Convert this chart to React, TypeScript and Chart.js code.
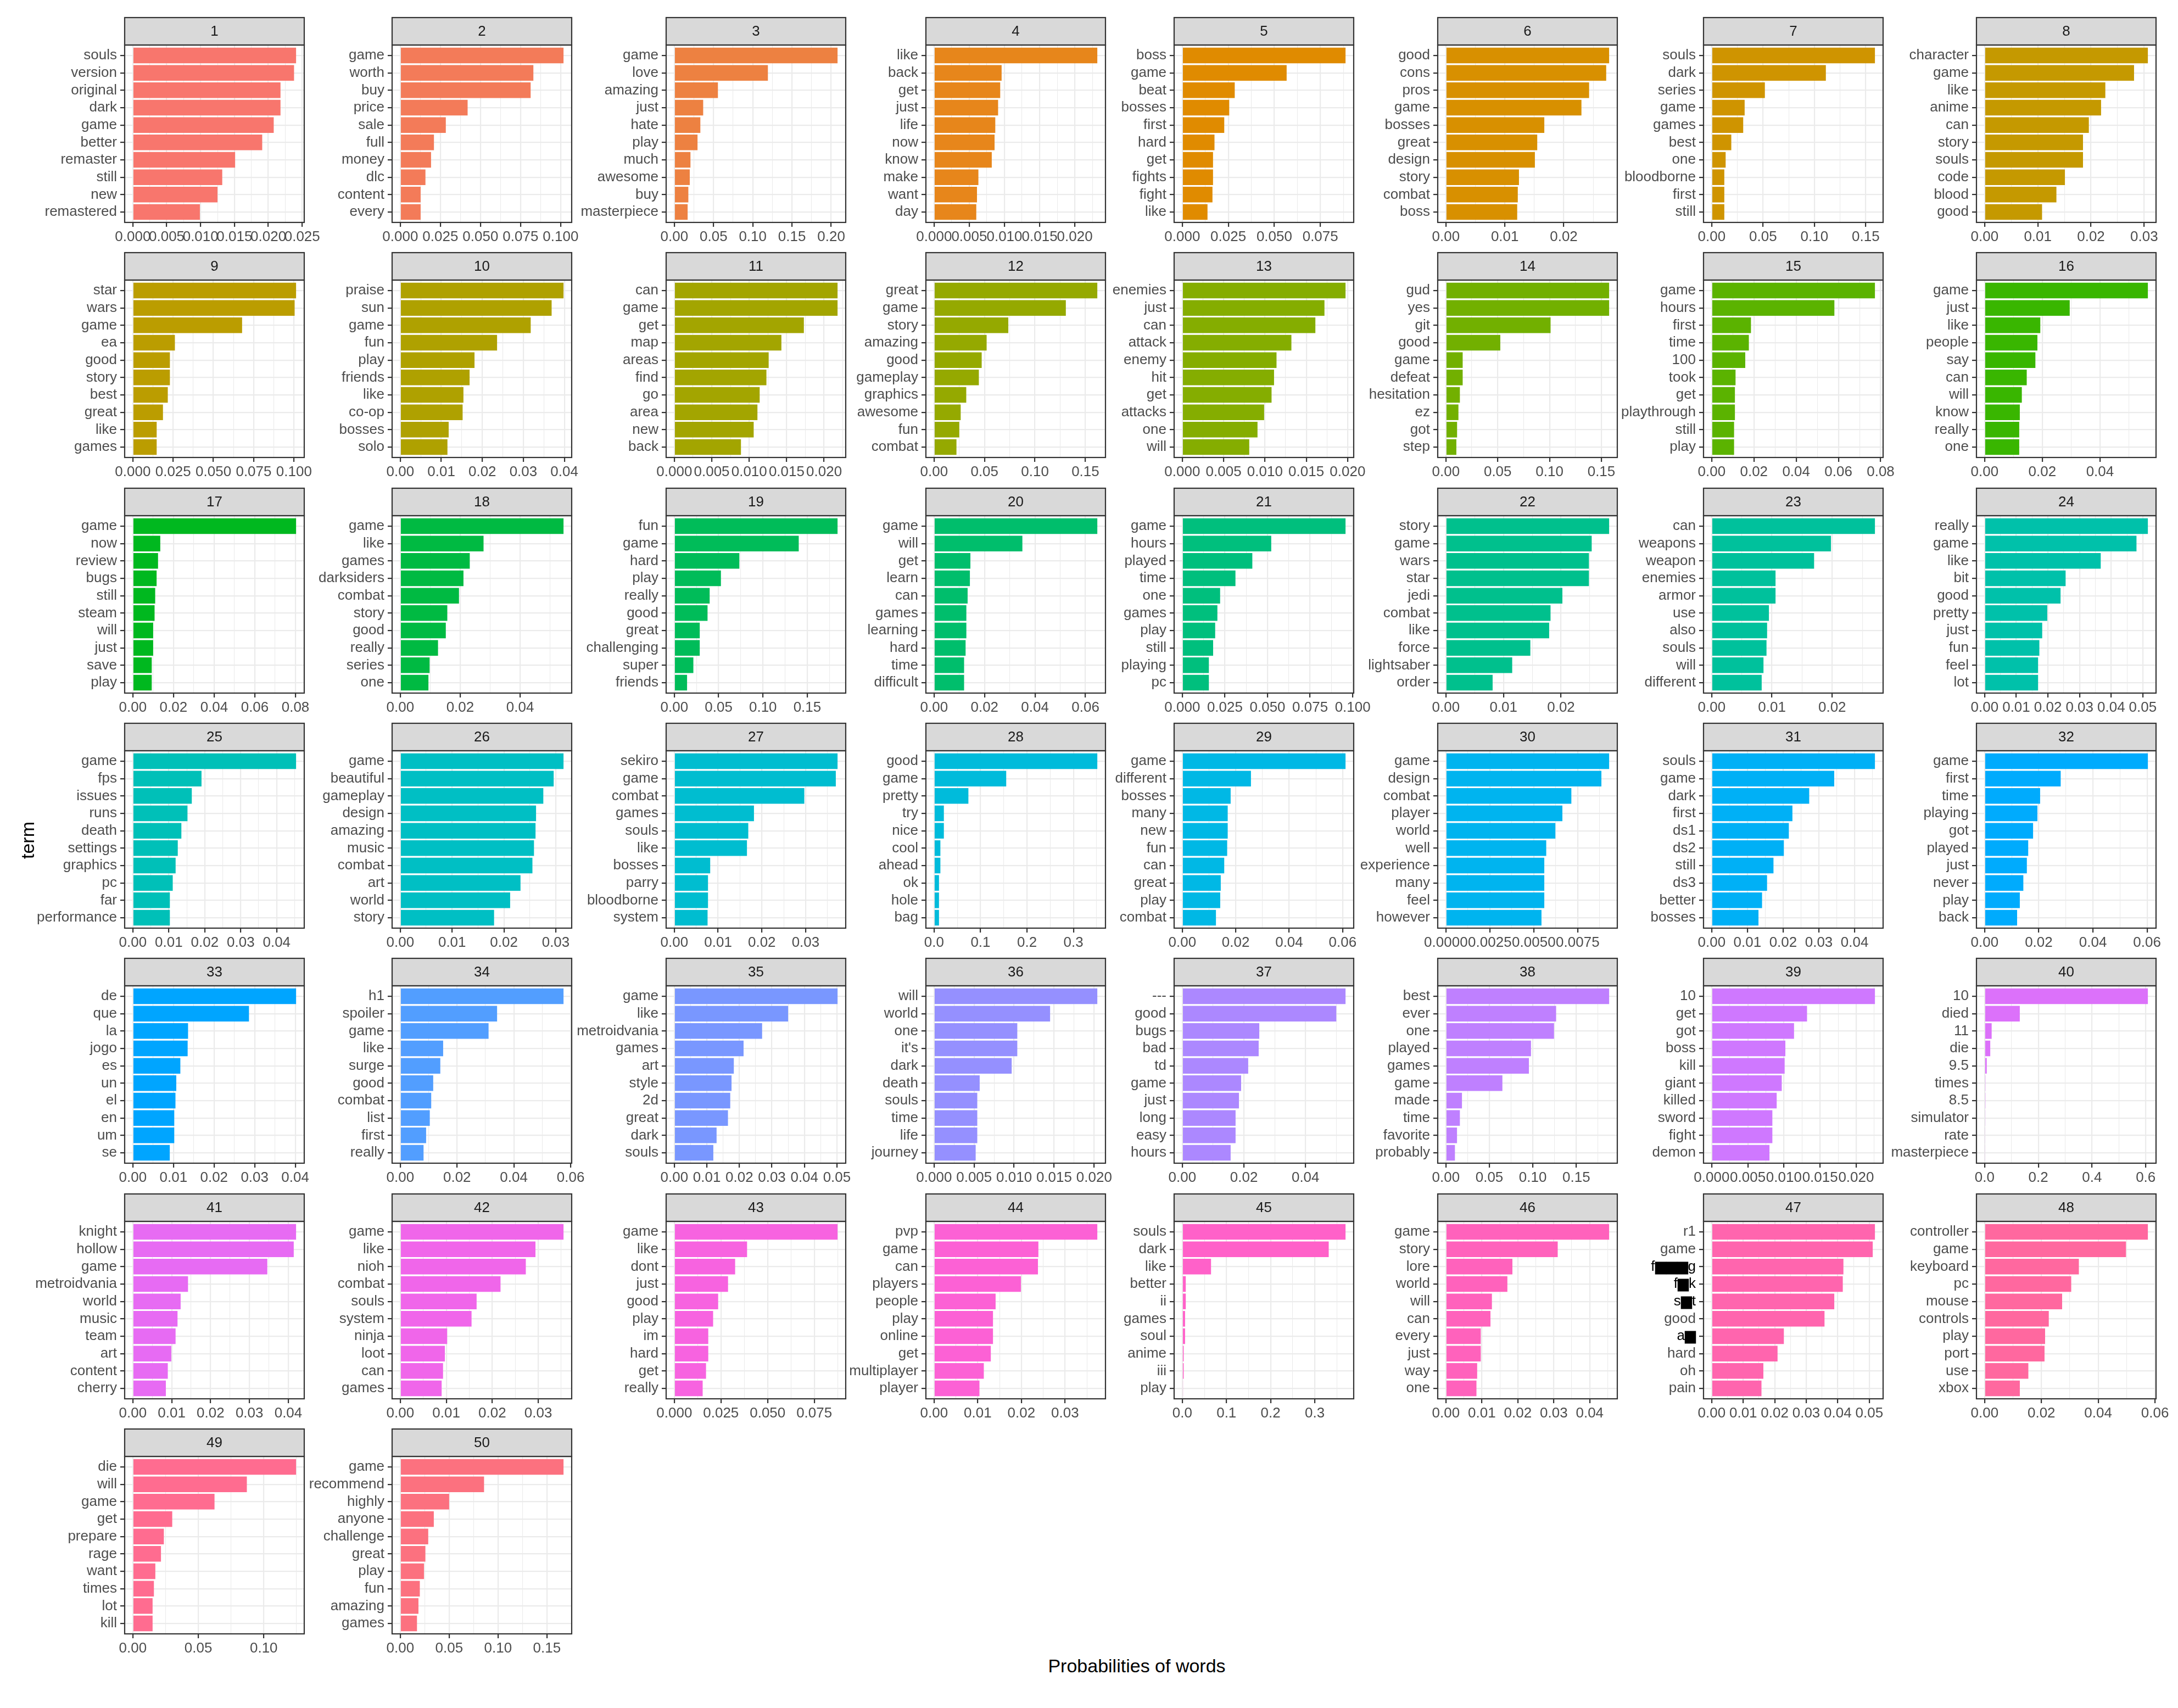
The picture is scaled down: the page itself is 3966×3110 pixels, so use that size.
import React, { useEffect, useRef } from "react";
import { Chart, registerables } from "chart.js";

Chart.register(...registerables);

// ---------------- DATA ----------------
const terms01 = ["souls", "version", "original", "dark", "game", "better", "remaster", "still", "new", "remastered"];
const probs01 = [0.0241, 0.0238, 0.0218, 0.0218, 0.0208, 0.0191, 0.0151, 0.0132, 0.0125, 0.0099];
const xticks01 = ["0.000", "0.005", "0.010", "0.015", "0.020", "0.025"];

const terms02 = ["game", "worth", "buy", "price", "sale", "full", "money", "dlc", "content", "every"];
const probs02 = [0.1018, 0.083, 0.0813, 0.042, 0.0284, 0.021, 0.0192, 0.0157, 0.0127, 0.0127];
const xticks02 = ["0.000", "0.025", "0.050", "0.075", "0.100"];

const terms03 = ["game", "love", "amazing", "just", "hate", "play", "much", "awesome", "buy", "masterpiece"];
const probs03 = [0.2081, 0.1193, 0.0556, 0.0368, 0.0332, 0.0296, 0.0206, 0.0197, 0.0179, 0.017];
const xticks03 = ["0.00", "0.05", "0.10", "0.15", "0.20"];

const terms04 = ["like", "back", "get", "just", "life", "now", "know", "make", "want", "day"];
const probs04 = [0.0232, 0.0096, 0.0094, 0.0091, 0.0087, 0.0086, 0.0082, 0.0063, 0.0061, 0.006];
const xticks04 = ["0.000", "0.005", "0.010", "0.015", "0.020"];

const terms05 = ["boss", "game", "beat", "bosses", "first", "hard", "get", "fights", "fight", "like"];
const probs05 = [0.0887, 0.0567, 0.0285, 0.0255, 0.0228, 0.0175, 0.0167, 0.0167, 0.0164, 0.0137];
const xticks05 = ["0.000", "0.025", "0.050", "0.075"];

const terms06 = ["good", "cons", "pros", "game", "bosses", "great", "design", "story", "combat", "boss"];
const probs06 = [0.0277, 0.0272, 0.0243, 0.023, 0.0167, 0.0155, 0.0151, 0.0124, 0.0122, 0.0121];
const xticks06 = ["0.00", "0.01", "0.02"];

const terms07 = ["souls", "dark", "series", "game", "games", "best", "one", "bloodborne", "first", "still"];
const probs07 = [0.159, 0.1112, 0.0518, 0.0321, 0.0307, 0.0191, 0.0136, 0.0123, 0.0123, 0.0123];
const xticks07 = ["0.00", "0.05", "0.10", "0.15"];

const terms08 = ["character", "game", "like", "anime", "can", "story", "souls", "code", "blood", "good"];
const probs08 = [0.0307, 0.0281, 0.0227, 0.0219, 0.0196, 0.0185, 0.0185, 0.0151, 0.0135, 0.0108];
const xticks08 = ["0.00", "0.01", "0.02", "0.03"];

const terms09 = ["star", "wars", "game", "ea", "good", "story", "best", "great", "like", "games"];
const probs09 = [0.1013, 0.1004, 0.0678, 0.0261, 0.023, 0.023, 0.0217, 0.0187, 0.0148, 0.0148];
const xticks09 = ["0.000", "0.025", "0.050", "0.075", "0.100"];

const terms10 = ["praise", "sun", "game", "fun", "play", "friends", "like", "co-op", "bosses", "solo"];
const probs10 = [0.0398, 0.0369, 0.0318, 0.0236, 0.0181, 0.0169, 0.0154, 0.0152, 0.0118, 0.0115];
const xticks10 = ["0.00", "0.01", "0.02", "0.03", "0.04"];

const terms11 = ["can", "game", "get", "map", "areas", "find", "go", "area", "new", "back"];
const probs11 = [0.0218, 0.0218, 0.0173, 0.0143, 0.0126, 0.0123, 0.0114, 0.0111, 0.0106, 0.0089];
const xticks11 = ["0.000", "0.005", "0.010", "0.015", "0.020"];

const terms12 = ["great", "game", "story", "amazing", "good", "gameplay", "graphics", "awesome", "fun", "combat"];
const probs12 = [0.1618, 0.1306, 0.0736, 0.0521, 0.0472, 0.0444, 0.0319, 0.0264, 0.025, 0.0222];
const xticks12 = ["0.00", "0.05", "0.10", "0.15"];

const terms13 = ["enemies", "just", "can", "attack", "enemy", "hit", "get", "attacks", "one", "will"];
const probs13 = [0.01975, 0.0172, 0.0161, 0.0132, 0.0114, 0.0111, 0.0108, 0.0099, 0.0091, 0.0081];
const xticks13 = ["0.000", "0.005", "0.010", "0.015", "0.020"];

const terms14 = ["gud", "yes", "git", "good", "game", "defeat", "hesitation", "ez", "got", "step"];
const probs14 = [0.1575, 0.1575, 0.101, 0.0525, 0.0162, 0.0162, 0.0135, 0.0121, 0.0108, 0.0101];
const xticks14 = ["0.00", "0.05", "0.10", "0.15"];

const terms15 = ["game", "hours", "first", "time", "100", "took", "get", "playthrough", "still", "play"];
const probs15 = [0.0773, 0.0581, 0.0186, 0.0176, 0.0159, 0.0113, 0.011, 0.011, 0.0106, 0.0106];
const xticks15 = ["0.00", "0.02", "0.04", "0.06", "0.08"];

const terms16 = ["game", "just", "like", "people", "say", "can", "will", "know", "really", "one"];
const probs16 = [0.0566, 0.0295, 0.0193, 0.0183, 0.0176, 0.0146, 0.0129, 0.0122, 0.012, 0.012];
const xticks16 = ["0.00", "0.02", "0.04"];

const terms17 = ["game", "now", "review", "bugs", "still", "steam", "will", "just", "save", "play"];
const probs17 = [0.0803, 0.0135, 0.0124, 0.0117, 0.011, 0.0107, 0.01, 0.01, 0.0093, 0.0093];
const xticks17 = ["0.00", "0.02", "0.04", "0.06", "0.08"];

const terms18 = ["game", "like", "games", "darksiders", "combat", "story", "good", "really", "series", "one"];
const probs18 = [0.0545, 0.0278, 0.0232, 0.0211, 0.0196, 0.0157, 0.0152, 0.0126, 0.0098, 0.0094];
const xticks18 = ["0.00", "0.02", "0.04"];

const terms19 = ["fun", "game", "hard", "play", "really", "good", "great", "challenging", "super", "friends"];
const probs19 = [0.1842, 0.1404, 0.0734, 0.0526, 0.0399, 0.0375, 0.0287, 0.0287, 0.0215, 0.0144];
const xticks19 = ["0.00", "0.05", "0.10", "0.15"];

const terms20 = ["game", "will", "get", "learn", "can", "games", "learning", "hard", "time", "difficult"];
const probs20 = [0.0647, 0.035, 0.0144, 0.0142, 0.0133, 0.0128, 0.0128, 0.0125, 0.0119, 0.0119];
const xticks20 = ["0.00", "0.02", "0.04", "0.06"];

const terms21 = ["game", "hours", "played", "time", "one", "games", "play", "still", "playing", "pc"];
const probs21 = [0.0958, 0.0522, 0.0411, 0.0312, 0.0222, 0.0206, 0.0193, 0.0181, 0.0156, 0.0156];
const xticks21 = ["0.000", "0.025", "0.050", "0.075", "0.100"];

const terms22 = ["story", "game", "wars", "star", "jedi", "combat", "like", "force", "lightsaber", "order"];
const probs22 = [0.02836, 0.02533, 0.02485, 0.02485, 0.02024, 0.01818, 0.01794, 0.01467, 0.01152, 0.00812];
const xticks22 = ["0.00", "0.01", "0.02"];

const terms23 = ["can", "weapons", "weapon", "enemies", "armor", "use", "also", "souls", "will", "different"];
const probs23 = [0.0271, 0.0198, 0.017, 0.0106, 0.0106, 0.0095, 0.0092, 0.0091, 0.0086, 0.0083];
const xticks23 = ["0.00", "0.01", "0.02"];

const terms24 = ["really", "game", "like", "bit", "good", "pretty", "just", "fun", "feel", "lot"];
const probs24 = [0.0516, 0.048, 0.0367, 0.0256, 0.024, 0.0198, 0.0182, 0.0173, 0.0169, 0.0169];
const xticks24 = ["0.00", "0.01", "0.02", "0.03", "0.04", "0.05"];

const terms25 = ["game", "fps", "issues", "runs", "death", "settings", "graphics", "pc", "far", "performance"];
const probs25 = [0.0454, 0.0191, 0.0164, 0.0152, 0.0135, 0.0125, 0.0119, 0.0111, 0.0103, 0.0103];
const xticks25 = ["0.00", "0.01", "0.02", "0.03", "0.04"];

const terms26 = ["game", "beautiful", "gameplay", "design", "amazing", "music", "combat", "art", "world", "story"];
const probs26 = [0.0315, 0.0296, 0.0276, 0.0262, 0.0261, 0.0258, 0.0255, 0.0232, 0.0212, 0.0181];
const xticks26 = ["0.00", "0.01", "0.02", "0.03"];

const terms27 = ["sekiro", "game", "combat", "games", "souls", "like", "bosses", "parry", "bloodborne", "system"];
const probs27 = [0.0373, 0.0369, 0.0297, 0.0182, 0.0169, 0.0166, 0.0082, 0.0077, 0.0077, 0.0076];
const xticks27 = ["0.00", "0.01", "0.02", "0.03"];

const terms28 = ["good", "game", "pretty", "try", "nice", "cool", "ahead", "ok", "hole", "bag"];
const probs28 = [0.3514, 0.1553, 0.0739, 0.0211, 0.0211, 0.0136, 0.0136, 0.0106, 0.0106, 0.0106];
const xticks28 = ["0.0", "0.1", "0.2", "0.3"];

const terms29 = ["game", "different", "bosses", "many", "new", "fun", "can", "great", "play", "combat"];
const probs29 = [0.0611, 0.0257, 0.0181, 0.017, 0.017, 0.0168, 0.0157, 0.0144, 0.0142, 0.0126];
const xticks29 = ["0.00", "0.02", "0.04", "0.06"];

const terms30 = ["game", "design", "combat", "player", "world", "well", "experience", "many", "feel", "however"];
const probs30 = [0.00929, 0.00885, 0.00714, 0.00663, 0.00623, 0.00571, 0.0056, 0.0056, 0.0056, 0.00544];
const xticks30 = ["0.0000", "0.0025", "0.0050", "0.0075"];

const terms31 = ["souls", "game", "dark", "first", "ds1", "ds2", "still", "ds3", "better", "bosses"];
const probs31 = [0.0457, 0.0343, 0.0273, 0.0226, 0.0216, 0.0202, 0.0173, 0.0155, 0.0141, 0.0131];
const xticks31 = ["0.00", "0.01", "0.02", "0.03", "0.04"];

const terms32 = ["game", "first", "time", "playing", "got", "played", "just", "never", "play", "back"];
const probs32 = [0.0603, 0.0281, 0.0205, 0.0195, 0.0179, 0.0161, 0.0156, 0.0143, 0.013, 0.012];
const xticks32 = ["0.00", "0.02", "0.04", "0.06"];

const terms33 = ["de", "que", "la", "jogo", "es", "un", "el", "en", "um", "se"];
const probs33 = [0.0402, 0.0286, 0.0136, 0.0135, 0.0117, 0.0107, 0.0105, 0.0102, 0.0102, 0.0091];
const xticks33 = ["0.00", "0.01", "0.02", "0.03", "0.04"];

const terms34 = ["h1", "spoiler", "game", "like", "surge", "good", "combat", "list", "first", "really"];
const probs34 = [0.0575, 0.0341, 0.0311, 0.0151, 0.0141, 0.0116, 0.0109, 0.0104, 0.0091, 0.0082];
const xticks34 = ["0.00", "0.02", "0.04", "0.06"];

const terms35 = ["game", "like", "metroidvania", "games", "art", "style", "2d", "great", "dark", "souls"];
const probs35 = [0.0502, 0.035, 0.027, 0.0213, 0.0183, 0.0176, 0.0172, 0.0165, 0.013, 0.012];
const xticks35 = ["0.00", "0.01", "0.02", "0.03", "0.04", "0.05"];

const terms36 = ["will", "world", "one", "it's", "dark", "death", "souls", "time", "life", "journey"];
const probs36 = [0.0204, 0.0145, 0.0104, 0.0104, 0.0097, 0.0057, 0.0054, 0.0054, 0.0054, 0.0052];
const xticks36 = ["0.000", "0.005", "0.010", "0.015", "0.020"];

const terms37 = ["---", "good", "bugs", "bad", "td", "game", "just", "long", "easy", "hours"];
const probs37 = [0.053, 0.05, 0.025, 0.0248, 0.0214, 0.0191, 0.0184, 0.0173, 0.0173, 0.0157];
const xticks37 = ["0.00", "0.02", "0.04"];

const terms38 = ["best", "ever", "one", "played", "games", "game", "made", "time", "favorite", "probably"];
const probs38 = [0.1878, 0.1268, 0.1244, 0.0979, 0.0955, 0.065, 0.0185, 0.0161, 0.0128, 0.0104];
const xticks38 = ["0.00", "0.05", "0.10", "0.15"];

const terms39 = ["10", "get", "got", "boss", "kill", "giant", "killed", "sword", "fight", "demon"];
const probs39 = [0.0226, 0.0132, 0.0114, 0.0102, 0.0101, 0.0097, 0.009, 0.0084, 0.0084, 0.008];
const xticks39 = ["0.000", "0.005", "0.010", "0.015", "0.020"];

const terms40 = ["10", "died", "11", "die", "9.5", "times", "8.5", "simulator", "rate", "masterpiece"];
const probs40 = [0.608, 0.131, 0.0262, 0.021, 0.0079, 0.003, 0.003, 0.0026, 0.002, 0.002];
const xticks40 = ["0.0", "0.2", "0.4", "0.6"];

const terms41 = ["knight", "hollow", "game", "metroidvania", "world", "music", "team", "art", "content", "cherry"];
const probs41 = [0.042, 0.0414, 0.0346, 0.0142, 0.0123, 0.0115, 0.011, 0.0099, 0.009, 0.0085];
const xticks41 = ["0.00", "0.01", "0.02", "0.03", "0.04"];

const terms42 = ["game", "like", "nioh", "combat", "souls", "system", "ninja", "loot", "can", "games"];
const probs42 = [0.0355, 0.0294, 0.0273, 0.0218, 0.0166, 0.0155, 0.0102, 0.0097, 0.0093, 0.009];
const xticks42 = ["0.00", "0.01", "0.02", "0.03"];

const terms43 = ["game", "like", "dont", "just", "good", "play", "im", "hard", "get", "really"];
const probs43 = [0.0875, 0.039, 0.0326, 0.0288, 0.0235, 0.0208, 0.0182, 0.0182, 0.017, 0.0152];
const xticks43 = ["0.000", "0.025", "0.050", "0.075"];

const terms44 = ["pvp", "game", "can", "players", "people", "play", "online", "get", "multiplayer", "player"];
const probs44 = [0.0374, 0.0239, 0.0238, 0.0199, 0.0141, 0.0135, 0.0135, 0.013, 0.0114, 0.0104];
const xticks44 = ["0.00", "0.01", "0.02", "0.03"];

const terms45 = ["souls", "dark", "like", "better", "ii", "games", "soul", "anime", "iii", "play"];
const probs45 = [0.3698, 0.3317, 0.0651, 0.0079, 0.0079, 0.0063, 0.0063, 0.0032, 0.0032, 0.0016];
const xticks45 = ["0.0", "0.1", "0.2", "0.3"];

const terms46 = ["game", "story", "lore", "world", "will", "can", "every", "just", "way", "one"];
const probs46 = [0.0454, 0.0311, 0.0185, 0.0171, 0.0128, 0.0124, 0.0097, 0.0097, 0.0087, 0.0085];
const xticks46 = ["0.00", "0.01", "0.02", "0.03", "0.04"];

// censored words in the source picture are shown with solid blocks
const terms47 = ["r1", "game", "f\u2586\u2586\u2586g", "f\u2586k", "s\u2586t", "good", "a\u2586", "hard", "oh", "pain"];
const probs47 = [0.0518, 0.0511, 0.0418, 0.0416, 0.0389, 0.0358, 0.0229, 0.0209, 0.0164, 0.0158];
const xticks47 = ["0.00", "0.01", "0.02", "0.03", "0.04", "0.05"];

const terms48 = ["controller", "game", "keyboard", "pc", "mouse", "controls", "play", "port", "use", "xbox"];
const probs48 = [0.0575, 0.0498, 0.0332, 0.0305, 0.0273, 0.0226, 0.0213, 0.0211, 0.0154, 0.0124];
const xticks48 = ["0.00", "0.02", "0.04", "0.06"];

const terms49 = ["die", "will", "game", "get", "prepare", "rage", "want", "times", "lot", "kill"];
const probs49 = [0.1247, 0.0871, 0.0624, 0.0301, 0.0237, 0.0215, 0.0172, 0.0161, 0.0151, 0.0151];
const xticks49 = ["0.00", "0.05", "0.10"];

const terms50 = ["game", "recommend", "highly", "anyone", "challenge", "great", "play", "fun", "amazing", "games"];
const probs50 = [0.167, 0.0857, 0.05, 0.0343, 0.0286, 0.0257, 0.0243, 0.02, 0.0186, 0.0171];
const xticks50 = ["0.00", "0.05", "0.10", "0.15"];

const xAxisTitle = "Probabilities of words";
const yAxisTitle = "term";

type PanelDef = { id: number; terms: string[]; probs: number[]; ticks: string[] };

const panels: PanelDef[] = [
  [terms01, probs01, xticks01], [terms02, probs02, xticks02], [terms03, probs03, xticks03], [terms04, probs04, xticks04],
  [terms05, probs05, xticks05], [terms06, probs06, xticks06], [terms07, probs07, xticks07], [terms08, probs08, xticks08],
  [terms09, probs09, xticks09], [terms10, probs10, xticks10], [terms11, probs11, xticks11], [terms12, probs12, xticks12],
  [terms13, probs13, xticks13], [terms14, probs14, xticks14], [terms15, probs15, xticks15], [terms16, probs16, xticks16],
  [terms17, probs17, xticks17], [terms18, probs18, xticks18], [terms19, probs19, xticks19], [terms20, probs20, xticks20],
  [terms21, probs21, xticks21], [terms22, probs22, xticks22], [terms23, probs23, xticks23], [terms24, probs24, xticks24],
  [terms25, probs25, xticks25], [terms26, probs26, xticks26], [terms27, probs27, xticks27], [terms28, probs28, xticks28],
  [terms29, probs29, xticks29], [terms30, probs30, xticks30], [terms31, probs31, xticks31], [terms32, probs32, xticks32],
  [terms33, probs33, xticks33], [terms34, probs34, xticks34], [terms35, probs35, xticks35], [terms36, probs36, xticks36],
  [terms37, probs37, xticks37], [terms38, probs38, xticks38], [terms39, probs39, xticks39], [terms40, probs40, xticks40],
  [terms41, probs41, xticks41], [terms42, probs42, xticks42], [terms43, probs43, xticks43], [terms44, probs44, xticks44],
  [terms45, probs45, xticks45], [terms46, probs46, xticks46], [terms47, probs47, xticks47], [terms48, probs48, xticks48],
  [terms49, probs49, xticks49], [terms50, probs50, xticks50],
].map((p, i) => ({ id: i + 1, terms: p[0] as string[], probs: p[1] as number[], ticks: p[2] as string[] }));

// ---------------- STYLE / LAYOUT ----------------
const FONT = '"Liberation Sans", Arial, Helvetica, sans-serif';
const COL_LEFT = [227, 714, 1213, 1686, 2138, 2618, 3102, 3599];
const ROW_TOP0 = 32;
const ROW_PITCH = 428.3;
const PW = 327;
const PH = 323;
const STRIP = 50;
const YW = 210;
const XH = 60;
const RPAD = 60;
const TOPPAD = 4;
const TEXT_SIZE = 26;
const BORDER = "#333333";
const GRID = "#EBEBEB";
const LINE_W = 2.2;
const CENSOR = /[\u2580-\u259F]/;

// ggplot2 default hue palette (hcl, c = 100, l = 65)
function hcl(h: number, c: number, l: number): string {
  const WX = 95.047, WY = 100.0, WZ = 108.883;
  const t = WX + 15 * WY + 3 * WZ;
  const uN = (4 * WX) / t;
  const vN = (9 * WY) / t;
  const hr = (h * Math.PI) / 180;
  const U = c * Math.cos(hr);
  const V = c * Math.sin(hr);
  const Y = WY * (l > 7.999592 ? Math.pow((l + 16) / 116, 3) : l / 903.3);
  const u = U / (13 * l) + uN;
  const v = V / (13 * l) + vN;
  const X = (9.0 * Y * u) / (4 * v);
  const Z = -X / 3 - 5 * Y + (3 * Y) / v;
  const g = (q: number) => {
    const w = q > 0.00304 ? 1.055 * Math.pow(q, 1 / 2.4) - 0.055 : 12.92 * q;
    return Math.round(255 * Math.min(1, Math.max(0, w)));
  };
  const r = g((3.240479 * X - 1.53715 * Y - 0.498535 * Z) / WY);
  const gg = g((-0.969256 * X + 1.875992 * Y + 0.041556 * Z) / WY);
  const b = g((0.055648 * X - 0.204043 * Y + 1.057311 * Z) / WY);
  const hx = (n: number) => n.toString(16).padStart(2, "0");
  return "#" + hx(r) + hx(gg) + hx(b);
}

function panelColor(i: number, n: number): string {
  return hcl(15 + (360 * i) / n, 100, 65);
}

function buildConfig(def: PanelDef, color: string): any {
  const maxV = Math.max(...def.probs);
  const lo = -0.05 * maxV;
  const hi = 1.05 * maxV;
  const majors = def.ticks.map(Number);
  const step = majors.length > 1 ? majors[1] - majors[0] : Math.abs(majors[0]) || 1;
  const minors: number[] = [];
  for (let i = 0; i + 1 < majors.length; i++) minors.push((majors[i] + majors[i + 1]) / 2);
  const after = majors[majors.length - 1] + step / 2;
  if (after <= hi) minors.push(after);
  const allTicks = [...majors, ...minors].sort((a, b) => a - b);
  const eps = step * 1e-6;
  const majorIndex = (v: number) => majors.findIndex((m) => Math.abs(m - v) < eps);
  const n = def.terms.length;

  const framePlugin = {
    id: "frame" + def.id,
    afterDraw(chart: any) {
      const { ctx, chartArea: a } = chart;
      const w = a.right - a.left;
      const stripTop = TOPPAD;
      ctx.save();
      ctx.fillStyle = "#D9D9D9";
      ctx.fillRect(a.left, stripTop, w, a.top - stripTop);
      ctx.strokeStyle = BORDER;
      ctx.lineWidth = LINE_W;
      ctx.strokeRect(a.left, stripTop, w, a.top - stripTop);
      ctx.fillStyle = "#1A1A1A";
      ctx.font = `${TEXT_SIZE}px ${FONT}`;
      ctx.textAlign = "center";
      ctx.textBaseline = "middle";
      ctx.fillText(String(def.id), (a.left + a.right) / 2, (stripTop + a.top) / 2 + 1);
      ctx.strokeRect(a.left, a.top, w, a.bottom - a.top);
      ctx.restore();
    },
  };

  return {
    type: "bar",
    data: {
      datasets: [
        {
          data: def.probs.map((v, i) => ({ x: v, y: i + 1 })),
          backgroundColor: color,
          borderWidth: 0,
          categoryPercentage: 1,
          barPercentage: 0.9,
        },
      ],
    },
    options: {
      indexAxis: "y",
      responsive: false,
      maintainAspectRatio: false,
      animation: false,
      events: [],
      layout: { padding: { top: TOPPAD + STRIP, left: 0, right: RPAD, bottom: 0 } },
      plugins: { legend: { display: false }, tooltip: { enabled: false }, title: { display: false } },
      scales: {
        y: {
          type: "linear",
          reverse: true,
          min: 0.4,
          max: n + 0.6,
          bounds: "data",
          offset: false,
          afterBuildTicks: (s: any) => {
            s.ticks = def.terms.map((_, i) => ({ value: i + 1 }));
          },
          afterFit: (s: any) => {
            s.width = YW;
            s.paddingTop = 0;
            s.paddingBottom = 0;
          },
          ticks: {
            autoSkip: false,
            color: (c: any) => (CENSOR.test(def.terms[c.index] ?? "") ? "#000000" : "#4D4D4D"),
            font: { family: FONT, size: TEXT_SIZE },
            padding: 6,
            callback: (v: any) => def.terms[Math.round(Number(v)) - 1] ?? "",
          },
          grid: {
            offset: false,
            color: GRID,
            lineWidth: LINE_W,
            tickColor: BORDER,
            tickLength: 8,
            tickWidth: LINE_W,
          },
          border: { display: false },
        },
        x: {
          type: "linear",
          min: lo,
          max: hi,
          bounds: "data",
          offset: false,
          afterBuildTicks: (s: any) => {
            s.ticks = allTicks.map((v) => ({ value: v }));
          },
          afterFit: (s: any) => {
            s.height = XH;
            s.paddingLeft = 0;
            s.paddingRight = 0;
          },
          ticks: {
            autoSkip: false,
            maxRotation: 0,
            minRotation: 0,
            color: "#4D4D4D",
            font: { family: FONT, size: TEXT_SIZE },
            padding: 3,
            callback: (v: any) => {
              const k = majorIndex(Number(v));
              return k >= 0 ? def.ticks[k] : "";
            },
          },
          grid: {
            offset: false,
            color: GRID,
            lineWidth: (c: any) => (c.tick && majorIndex(c.tick.value) >= 0 ? LINE_W : LINE_W / 2),
            tickColor: (c: any) => (c.tick && majorIndex(c.tick.value) >= 0 ? BORDER : "rgba(0,0,0,0)"),
            tickLength: 8,
            tickWidth: LINE_W,
          },
          border: { display: false },
        },
      },
    },
    plugins: [framePlugin],
  };
}

function Panel({ def, index }: { def: PanelDef; index: number }) {
  const ref = useRef<HTMLCanvasElement | null>(null);
  const col = index % 8;
  const row = Math.floor(index / 8);
  const left = COL_LEFT[col] - YW;
  const top = Math.round(ROW_TOP0 + ROW_PITCH * row) - TOPPAD;
  const width = YW + PW + RPAD;
  const height = TOPPAD + STRIP + PH + XH;

  useEffect(() => {
    if (!ref.current) return;
    const chart = new Chart(ref.current, buildConfig(def, panelColor(index, panels.length)));
    return () => chart.destroy();
  }, [def, index]);

  return (
    <canvas
      ref={ref}
      width={width}
      height={height}
      style={{ position: "absolute", left, top, width, height }}
    />
  );
}

export default function App() {
  return (
    <div
      style={{
        position: "absolute",
        left: 0,
        top: 0,
        width: 3966,
        height: 3110,
        background: "#FFFFFF",
        overflow: "hidden",
        fontFamily: FONT,
      }}
    >
      {panels.map((p, i) => (
        <Panel key={p.id} def={p} index={i} />
      ))}
      <div
        style={{
          position: "absolute",
          left: 50,
          top: 1530,
          transform: "translate(-50%, -50%) rotate(-90deg)",
          fontSize: 34,
          lineHeight: 1,
          color: "#000000",
          whiteSpace: "nowrap",
        }}
      >
        {yAxisTitle}
      </div>
      <div
        style={{
          position: "absolute",
          left: 2070,
          top: 3033,
          transform: "translate(-50%, -50%)",
          fontSize: 34,
          lineHeight: 1,
          color: "#000000",
          whiteSpace: "nowrap",
        }}
      >
        {xAxisTitle}
      </div>
    </div>
  );
}
